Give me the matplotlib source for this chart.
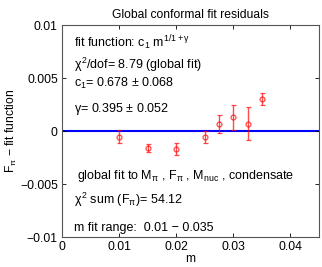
import numpy as np
import matplotlib.pyplot as plt

plt.rcParams['font.family'] = ['Liberation Sans', 'DejaVu Sans']
plt.rcParams['mathtext.fontset'] = 'custom'
plt.rcParams['mathtext.rm'] = 'Liberation Sans'
plt.rcParams['mathtext.it'] = 'Liberation Sans'

# residual data (F_pi - fit function) vs m
m_vals = [0.01, 0.015, 0.02, 0.025, 0.0275, 0.03, 0.0325, 0.035]
resid = [-0.00054, -0.0016, -0.0017, -0.00054, 0.00066, 0.0013, 0.0007, 0.003]
errs = [0.0006, 0.0004, 0.00055, 0.00054, 0.00085, 0.00115, 0.00155, 0.00057]

fig = plt.figure(figsize=(3.22, 2.67), dpi=100)
ax = fig.add_axes([0.1925, 0.112, 0.7982, 0.794])

ax.axhline(0, color='blue', lw=1.5, zorder=1)
ax.errorbar(m_vals, resid, yerr=errs, fmt='o', color='red', mfc='none',
            ms=3.5, mew=0.9, elinewidth=1.0, capsize=1.8, alpha=0.7, zorder=3)

ax.set_xlim(0, 0.045)
ax.set_ylim(-0.01, 0.01)
ax.set_xticks([0, 0.01, 0.02, 0.03, 0.04])
ax.set_xticklabels(['0', '0.01', '0.02', '0.03', '0.04'])
ax.set_yticks([-0.01, -0.005, 0, 0.005, 0.01])
ax.set_yticklabels(['\u22120.01', '\u22120.005', '0', '0.005', '0.01'])
ax.tick_params(direction='in', labelsize=8.7, length=3, width=0.6, top=True, right=True, pad=3)
for s in ax.spines.values():
    s.set_linewidth(0.8)
    s.set_color('#555555')

ax.set_title('Global conformal fit residuals', fontsize=8.7, pad=5)
ax.set_xlabel('m', fontsize=8.7, labelpad=0)
ax.set_ylabel(r'F$_{\pi}$ $-$ fit function', fontsize=8.7, labelpad=1)

fs = 9
ax.text(0.0021, 0.00795, r'fit function: c$_1$ m$^{1/1+\gamma}$', fontsize=fs, va='baseline')
ax.text(0.0021, 0.00585, r'$\chi^2$/dof= 8.79 (global fit)', fontsize=fs, va='baseline')
ax.text(0.0021, 0.00420, r'c$_1$= 0.678 $\pm$ 0.068', fontsize=fs, va='baseline')
ax.text(0.0021, 0.00176, r'$\gamma$= 0.395 $\pm$ 0.052', fontsize=fs, va='baseline')
ax.text(0.0027, -0.00453, r'global fit to M$_\pi$ , F$_\pi$ , M$_{\rm nuc}$ , condensate',
        fontsize=fs, va='baseline')
ax.text(0.0021, -0.00689, r'$\chi^2$ sum (F$_\pi$)= 54.12', fontsize=fs, va='baseline')
ax.text(0.0021, -0.0094, 'm fit range:  0.01 \u2212 0.035', fontsize=fs, va='baseline')

fig.savefig('out.png', dpi=100)
